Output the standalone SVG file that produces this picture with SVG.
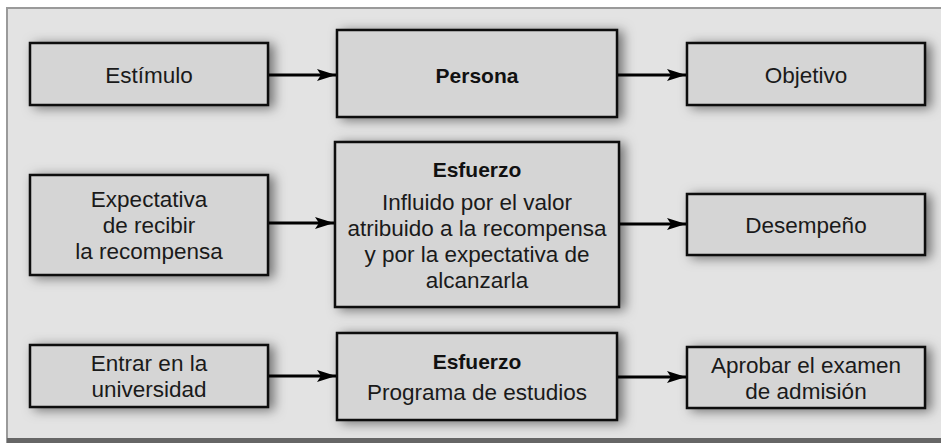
<svg xmlns="http://www.w3.org/2000/svg" width="941" height="443" viewBox="0 0 941 443">
<style>
.box{fill:#d5d5d5;stroke:#111;stroke-width:2.5;filter:url(#sh)}
.t{font-family:"Liberation Sans",Arial,sans-serif;font-size:22.5px;fill:#1a1a1a;text-anchor:middle}
.b{font-weight:bold;font-size:21px;fill:#111}
.c{fill:none;stroke:#000;stroke-width:3;marker-end:url(#ah)}
</style>
<defs>
<filter id="sh" x="-20%" y="-40%" width="140%" height="180%">
<feDropShadow dx="5" dy="2" stdDeviation="6" flood-color="#000" flood-opacity="0.5"/>
</filter>
<marker id="ah" markerUnits="userSpaceOnUse" markerWidth="22" markerHeight="14" refX="19" refY="6" orient="auto">
<path d="M0,0 L19,6 L0,12 L4,6 z" fill="#000"/>
</marker>
</defs>
<rect x="0" y="0" width="941" height="443" fill="#fff"/>
<rect x="7" y="8" width="940" height="436" fill="#e3e3e3" stroke="#9a9a9a" stroke-width="2"/>
<rect x="7" y="438" width="934" height="5" fill="#666"/>
<g id="connectors">
<line class="c" x1="268" y1="75" x2="336" y2="75"/>
<line class="c" x1="617" y1="75" x2="686" y2="75"/>
<line class="c" x1="268" y1="223" x2="334" y2="223"/>
<line class="c" x1="619" y1="224" x2="686" y2="224"/>
<line class="c" x1="268" y1="376" x2="336" y2="376"/>
<line class="c" x1="617" y1="377" x2="686" y2="377"/>
</g>
<g id="estimulo">
<rect class="box" x="30" y="43" width="238" height="62"/>
<text class="t" x="149" y="83">Estímulo</text>
</g>
<g id="persona">
<rect class="box" x="337" y="30" width="280" height="87"/>
<text class="t b" x="477" y="83">Persona</text>
</g>
<g id="objetivo">
<rect class="box" x="687" y="43" width="238" height="62"/>
<text class="t" x="806" y="83">Objetivo</text>
</g>
<g id="expectativa">
<rect class="box" x="30" y="175" width="238" height="100"/>
<text class="t" x="149" y="207">Expectativa</text>
<text class="t" x="149" y="233">de recibir</text>
<text class="t" x="149" y="259">la recompensa</text>
</g>
<g id="esfuerzo1">
<rect class="box" x="335" y="142" width="284" height="165"/>
<text class="t b" x="477" y="177">Esfuerzo</text>
<text class="t" x="477" y="210">Influido por el valor</text>
<text class="t" x="477" y="236">atribuido a la recompensa</text>
<text class="t" x="477" y="262">y por la expectativa de</text>
<text class="t" x="477" y="288">alcanzarla</text>
</g>
<g id="desempeno">
<rect class="box" x="687" y="194" width="238" height="61"/>
<text class="t" x="806" y="233">Desempeño</text>
</g>
<g id="entrar">
<rect class="box" x="30" y="345" width="238" height="62"/>
<text class="t" x="149" y="371">Entrar en la</text>
<text class="t" x="149" y="397">universidad</text>
</g>
<g id="esfuerzo2">
<rect class="box" x="337" y="333" width="280" height="87"/>
<text class="t b" x="477" y="369">Esfuerzo</text>
<text class="t" x="477" y="400">Programa de estudios</text>
</g>
<g id="aprobar">
<rect class="box" x="687" y="347" width="238" height="61"/>
<text class="t" x="806" y="373">Aprobar el examen</text>
<text class="t" x="806" y="399">de admisión</text>
</g>
</svg>
